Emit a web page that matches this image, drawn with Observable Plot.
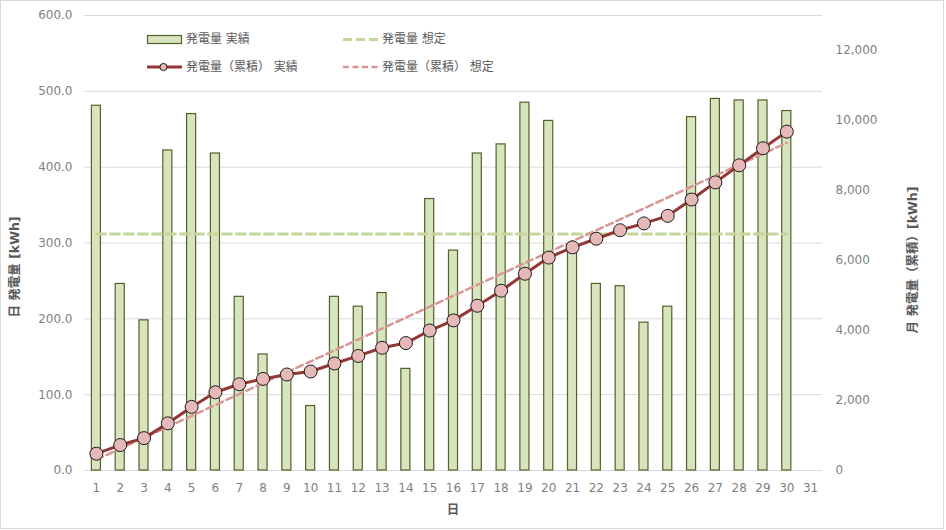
<!DOCTYPE html>
<html><head><meta charset="utf-8">
<script src="https://cdn.jsdelivr.net/npm/d3@7"></script>
<script src="https://cdn.jsdelivr.net/npm/@observablehq/plot@0.6"></script>
<style>
body{margin:0;background:#fff;}
#wrap{position:relative;width:946px;height:530px;overflow:hidden;font-family:"DejaVu Sans","Noto Sans CJK JP",sans-serif;}
#frame{position:absolute;left:0;top:0;width:942px;height:527px;border:1px solid #d9d9d9;pointer-events:none;}
.lg{position:absolute;font-size:12px;color:#595959;white-space:nowrap;line-height:14px;}
.sw{position:absolute;}
.title{position:absolute;font-size:12.5px;font-weight:bold;color:#595959;white-space:nowrap;line-height:14px;}
</style></head><body>
<div id="wrap"></div>
<script>
// ---- data ----
const days = [1,2,3,4,5,6,7,8,9,10,11,12,13,14,15,16,17,18,19,20,21,22,23,24,25,26,27,28,29,30,31];
const dailyActual = [481,246,198,422,470,418,229,153,126,85,229,216,234,134,358,290,418,430,485,461,293,246,243,195,216,466,490,488,488,474];
const dailyPlan = [312,312,312,312,312,312,312,312,312,312,312,312,312,312,312,312,312,312,312,312,312,312,312,312,312,312,312,312,312,312];
const cumActual = [481,727,925,1347,1817,2235,2464,2617,2743,2828,3057,3273,3507,3641,3999,4289,4707,5137,5622,6083,6376,6622,6865,7060,7276,7742,8232,8720,9208,9682];
const cumPlan = [312,624,936,1248,1560,1872,2184,2496,2808,3120,3432,3744,4056,4368,4680,4992,5304,5616,5928,6240,6552,6864,7176,7488,7800,8112,8424,8736,9048,9360];
const leftTicks = [0,100,200,300,400,500,600];
const rightTicks = [0,2000,4000,6000,8000,10000,12000];
const leftMax = 600, rightMax = 13000;
const seriesNames = ["発電量 実績","発電量 想定","発電量（累積） 実績","発電量（累積） 想定"];
const leftTitle = "日 発電量 [kWh]";
const rightTitle = "月 発電量（累積）[kWh]";
const xTitle = "日";

// ---- build ----
const k = leftMax / rightMax;
const rows = dailyActual.map((v, i) => ({
  day: days[i], actual: v, plan: dailyPlan[i],
  cum: cumActual[i] * k, cumPlan: cumPlan[i] * k
}));

const tickColor = "#7f7f7f";
const chart = Plot.plot({
  width: 946, height: 530,
  marginLeft: 84, marginRight: 124, marginTop: 15, marginBottom: 60,
  style: {fontFamily: '"DejaVu Sans","Noto Sans CJK JP",sans-serif', fontSize: "12px", background: "transparent"},
  x: {type: "band", domain: days, paddingInner: 0.62, paddingOuter: 0.31, round: false},
  y: {domain: [0, leftMax]},
  marks: [
    Plot.gridY(leftTicks, {stroke: "#d9d9d9", strokeOpacity: 1, strokeWidth: 1}),
    Plot.barY(rows, {x: "day", y: "actual", fill: "#d7e4bd", stroke: "#4f6228", strokeWidth: 1.2}),
    Plot.line(rows, {x: "day", y: "plan", stroke: "#c3d69b", strokeWidth: 3, strokeDasharray: "9,5"}),
    Plot.line(rows, {x: "day", y: "cumPlan", stroke: "#d99694", strokeWidth: 2.5, strokeDasharray: "7,4"}),
    Plot.line(rows, {x: "day", y: "cum", stroke: "#953735", strokeWidth: 3}),
    Plot.dot(rows, {x: "day", y: "cum", r: 6.5, fill: "#e6b9b8", stroke: "#1a1a1a", strokeWidth: 1}),
    Plot.axisY(leftTicks, {anchor: "left", tickSize: 0, tickPadding: 12, tickFormat: d => d.toFixed(1), label: null, fill: tickColor}),
    Plot.axisY(rightTicks.map(v => v * k), {anchor: "right", tickSize: 0, tickPadding: 13, tickFormat: v => d3.format(",")(Math.round(v / k)), label: null, fill: tickColor}),
    Plot.axisX({anchor: "bottom", tickSize: 0, tickPadding: 13, label: null, fill: tickColor})
  ]
});
const wrap = document.getElementById("wrap");
chart.style.position = "absolute";
chart.style.left = "0px";
chart.style.top = "0px";
wrap.appendChild(chart);

// ---- legend (inside plot area) ----
function add(html){ wrap.insertAdjacentHTML("beforeend", html); }
add(`<svg class="sw" style="left:146px;top:33px" width="40" height="14"><rect x="1.5" y="2.5" width="34" height="8" fill="#d7e4bd" stroke="#4f6228" stroke-width="1.2"/></svg>`);
add(`<div class="lg" style="left:186px;top:32px">${seriesNames[0]}</div>`);
add(`<svg class="sw" style="left:343px;top:33px" width="40" height="14"><line x1="0" x2="36" y1="6.5" y2="6.5" stroke="#c3d69b" stroke-width="3" stroke-dasharray="9,4"/></svg>`);
add(`<div class="lg" style="left:382px;top:32px">${seriesNames[1]}</div>`);
add(`<svg class="sw" style="left:146px;top:60px" width="40" height="14"><line x1="1" x2="36" y1="7" y2="7" stroke="#953735" stroke-width="3"/><circle cx="17.5" cy="7" r="3.6" fill="#e6b9b8" stroke="#1a1a1a" stroke-width="1"/></svg>`);
add(`<div class="lg" style="left:186px;top:60px">${seriesNames[2]}</div>`);
add(`<svg class="sw" style="left:343px;top:60px" width="40" height="14"><line x1="0" x2="37" y1="7" y2="7" stroke="#d99694" stroke-width="2.5" stroke-dasharray="6,3.5"/></svg>`);
add(`<div class="lg" style="left:382px;top:60px">${seriesNames[3]}</div>`);

// ---- axis titles ----
add(`<div class="title" id="lt" style="left:15px;top:267px;transform:translate(-50%,-50%) rotate(-90deg)">${leftTitle}</div>`);
add(`<div class="title" id="rt" style="left:913px;top:260px;transform:translate(-50%,-50%) rotate(-90deg)">${rightTitle}</div>`);
add(`<div class="title" style="left:453px;top:510px;transform:translate(-50%,-50%)">${xTitle}</div>`);
add(`<div id="frame"></div>`);
</script>
</body></html>
